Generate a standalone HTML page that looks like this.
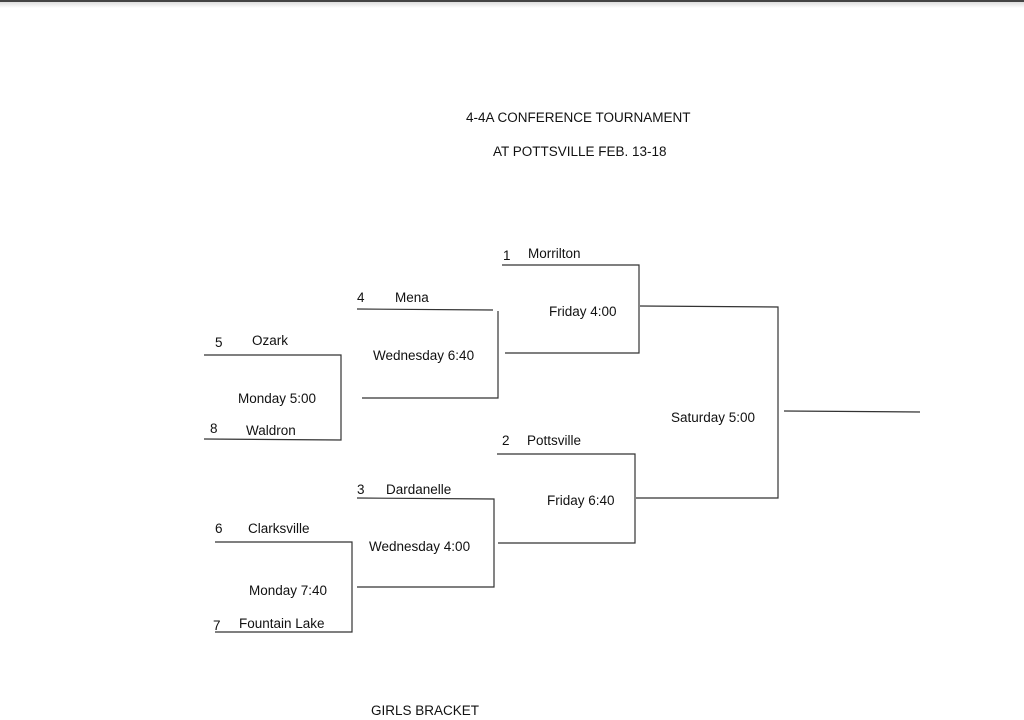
<!DOCTYPE html>
<html><head><style>
body{margin:0;width:1024px;height:720px;background:#fff;overflow:hidden;position:relative;font-family:"Liberation Sans",sans-serif;}
.top{position:absolute;left:0;top:0;width:1024px;height:2px;background:#444;}
.shadow{position:absolute;left:0;top:2px;width:1024px;height:6px;background:linear-gradient(#ddd,#fff);}
svg{position:absolute;left:0;top:0}
text{font-family:"Liberation Sans",sans-serif;font-size:13.5px;fill:#111}
</style></head><body>
<div class="top"></div><div class="shadow"></div>
<svg width="1024" height="720" stroke="#333" stroke-width="1.2" fill="none">
<g>
<polyline points="204,355 341,355 341,440 204,439"/>
<polyline points="357,309 493,310"/>
<polyline points="498,311 498,398 362,398"/>
<polyline points="502,265 639,265 639,353 505,353"/>
<polyline points="497,454 635,454 635,543 498,543"/>
<polyline points="357,498 494,499 494,587 357,587"/>
<polyline points="215,542 352,542 352,632 215,632"/>
<polyline points="640,306 778,307 778,498 636,498"/>
<polyline points="784,411 920,412"/>
</g>
<g stroke="none">
<text x="466" y="122">4-4A CONFERENCE TOURNAMENT</text>
<text x="493" y="156">AT POTTSVILLE FEB. 13-18</text>
<text x="503" y="260">1</text><text x="528" y="258">Morrilton</text>
<text x="549" y="316">Friday 4:00</text>
<text x="357" y="302">4</text><text x="395" y="302">Mena</text>
<text x="373" y="360">Wednesday 6:40</text>
<text x="215" y="347">5</text><text x="252" y="345">Ozark</text>
<text x="238" y="403">Monday 5:00</text>
<text x="210" y="433">8</text><text x="246" y="435">Waldron</text>
<text x="502" y="445">2</text><text x="527" y="445">Pottsville</text>
<text x="547" y="505">Friday 6:40</text>
<text x="671" y="422">Saturday 5:00</text>
<text x="357" y="494">3</text><text x="386" y="494">Dardanelle</text>
<text x="369" y="551">Wednesday 4:00</text>
<text x="215" y="533">6</text><text x="248" y="533">Clarksville</text>
<text x="249" y="595">Monday 7:40</text>
<text x="213" y="630">7</text><text x="239" y="628">Fountain Lake</text>
<text x="371" y="715">GIRLS BRACKET</text>
</g>
</svg>
</body></html>
